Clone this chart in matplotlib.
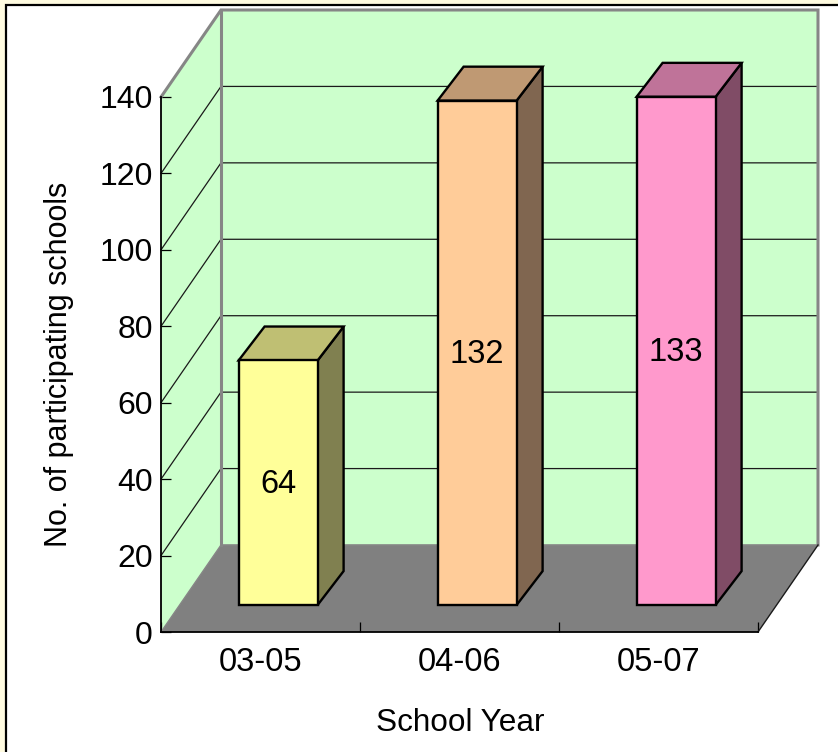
import matplotlib

matplotlib.use("Agg")
import matplotlib.pyplot as plt
from matplotlib.patches import Polygon, Rectangle

plt.rcParams["font.family"] = ["Liberation Sans", "DejaVu Sans"]

categories = ["03-05", "04-06", "05-07"]
schools = [64, 132, 133]
y_ticks = [0, 20, 40, 60, 80, 100, 120, 140]

front_colors = ["#FFFF99", "#FFCC99", "#FF99CC"]
top_colors = ["#BFBF73", "#BF9973", "#BF7399"]
side_colors = ["#808050", "#806650", "#804C66"]

W, H = 838, 752
WALL = "#CCFFCC"
FLOOR = "#808080"
EDGE_GRAY = "#868686"

# depth of the box, in data units
DX = 60 / 199
DY = 87 / (535 / 140)
BAR_W = 0.397
BAR_SHIFT = -0.005
BAR_DEPTH_X = 26 / 199
NEAR, FAR = 0.31, 0.70

fig = plt.figure(figsize=(W / 100, H / 100), dpi=100, facecolor="#FFFBE0")

# white panel with a black frame on the top and left
fig.add_artist(
    Rectangle(
        (6 / W, -0.01), 1.0, 1 - 5 / H + 0.01,
        transform=fig.transFigure, facecolor="white", edgecolor="black", linewidth=1.6, zorder=-1,
    )
)

ax = fig.add_axes([161 / W, (H - 632) / H, 597 / W, 535 / H])
ax.set_xlim(0, 3)
ax.set_ylim(0, 140)
ax.patch.set_visible(False)
ax.set_axisbelow(False)
for side in ["top", "right"]:
    ax.spines[side].set_visible(False)
for side in ["left", "bottom"]:
    ax.spines[side].set_linewidth(1.3)
    ax.spines[side].set_zorder(8)


def poly(points, zorder, **kwargs):
    ax.add_patch(Polygon(points, closed=True, clip_on=False, zorder=zorder, **kwargs))


top = y_ticks[-1]

# walls and floor
poly([(DX, DY), (3 + DX, DY), (3 + DX, top + DY), (DX, top + DY)], 1, facecolor=WALL, edgecolor="none")
poly([(0, 0), (DX, DY), (DX, top + DY), (0, top)], 1, facecolor=WALL, edgecolor="none")
poly([(0, 0), (3, 0), (3 + DX, DY), (DX, DY)], 2, facecolor=FLOOR, edgecolor="none")

# gridlines run along the side wall and across the back wall
for val in y_ticks[1:-1]:
    ax.plot([0, DX, 3 + DX], [val, val + DY, val + DY], color="#1A1A1A", lw=0.9, clip_on=False, zorder=3)

# heavy gray outline of the back wall
ax.plot(
    [0, DX, 3 + DX, 3 + DX], [top, top + DY, top + DY, DY],
    color=EDGE_GRAY, lw=2.2, clip_on=False, zorder=4, solid_joinstyle="miter",
)
ax.plot([DX, DX], [DY, top + DY], color=EDGE_GRAY, lw=2.2, clip_on=False, zorder=4)
ax.plot([DX, 3 + DX], [DY, DY], color=EDGE_GRAY, lw=1.2, clip_on=False, zorder=4)
ax.plot([0, DX], [0, DY], color=EDGE_GRAY, lw=1.0, clip_on=False, zorder=4)
ax.plot([3, 3 + DX], [0, DY], color="#1A1A1A", lw=1.0, clip_on=False, zorder=4)

# 3D bars
for i, val in enumerate(schools):
    x0 = i + 0.5 - BAR_W / 2 + NEAR * DX + BAR_SHIFT
    x1 = x0 + BAR_W
    y0 = NEAR * DY
    y1 = y0 + val
    ddx = BAR_DEPTH_X
    ddy = (FAR - NEAR) * DY
    style = dict(edgecolor="black", linewidth=1.7, joinstyle="miter")
    poly([(x1, y0), (x1 + ddx, y0 + ddy), (x1 + ddx, y1 + ddy), (x1, y1)], 5, facecolor=side_colors[i], **style)
    poly([(x0, y1), (x1, y1), (x1 + ddx, y1 + ddy), (x0 + ddx, y1 + ddy)], 5, facecolor=top_colors[i], **style)
    poly([(x0, y0), (x1, y0), (x1, y1), (x0, y1)], 6, facecolor=front_colors[i], **style)
    ax.text((x0 + x1) / 2, y0 + val / 2 - 0.4, str(val), ha="center", va="center", fontsize=23.5, zorder=7)

# group separators as major ticks, category names on minor ticks
ax.set_xticks(range(len(categories) + 1))
ax.set_xticklabels([])
ax.set_xticks([i + 0.5 for i in range(len(categories))], categories, minor=True)
ax.set_yticks(y_ticks)
ax.tick_params(axis="both", which="major", direction="in", length=7.5, width=0.9, labelsize=23)
ax.tick_params(axis="y", which="major", pad=6)
ax.tick_params(axis="x", which="minor", length=0, labelsize=23.5, pad=11)

fig.text(460 / W, 1 - 723 / H, "School Year", ha="center", va="center", fontsize=22.7)
fig.text(59 / W, 1 - 364 / H, "No. of participating schools", rotation=90, ha="center", va="center", fontsize=22)

fig.savefig("out.png", dpi=100, facecolor=fig.get_facecolor())
